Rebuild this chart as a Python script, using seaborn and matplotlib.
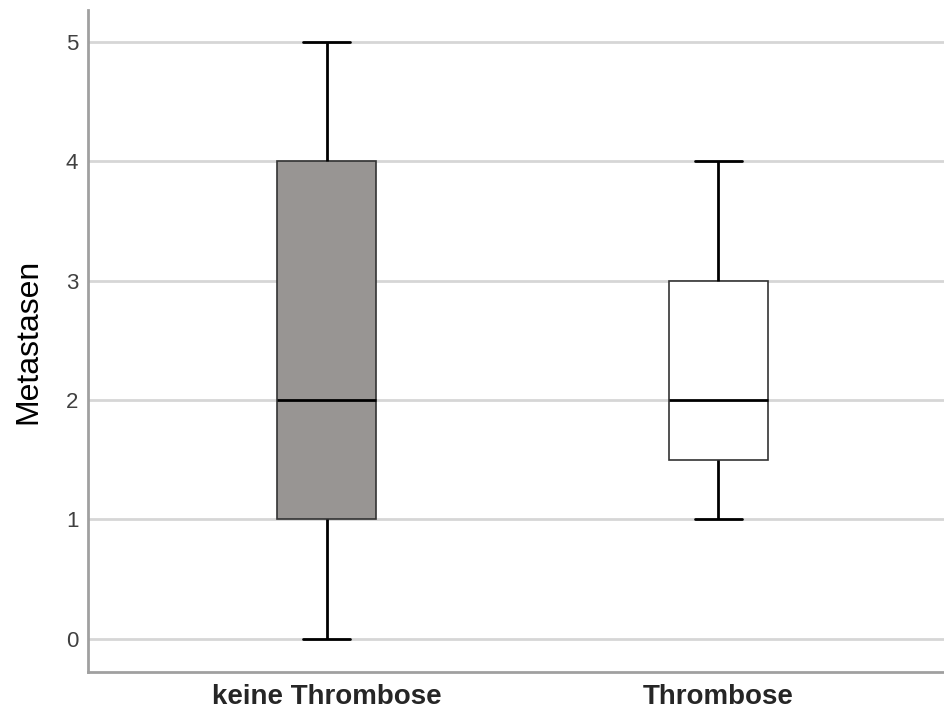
import numpy as np
import pandas as pd
import matplotlib
matplotlib.use("Agg")
import matplotlib.pyplot as plt
import seaborn as sns

# Data: raw counts per group (chosen so quartiles match the reference boxes)
groups = ["keine Thrombose", "Thrombose"]
keine_thrombose = [0, 1, 1, 2, 2, 4, 4, 5]
thrombose = [1, 1, 2, 2, 3, 3, 4]
box_colors = ["#999592", "#ffffff"]

df = pd.DataFrame({
    "Gruppe": [groups[0]] * len(keine_thrombose) + [groups[1]] * len(thrombose),
    "Metastasen": keine_thrombose + thrombose,
})

sns.set_style("white")
plt.rcParams["font.family"] = ["Liberation Sans", "DejaVu Sans"]

fig = plt.figure(figsize=(9.45, 7.13), dpi=100)
ax = fig.add_axes([88 / 945, 41 / 713, 857 / 945, 662 / 713])

sns.boxplot(data=df, x="Gruppe", y="Metastasen", hue="Gruppe", palette=box_colors,
            order=groups, width=0.253, whis=1.5, legend=False, ax=ax,
            boxprops=dict(edgecolor="#333333", linewidth=1.2),
            whiskerprops=dict(color="black", linewidth=2),
            capprops=dict(color="black", linewidth=2),
            medianprops=dict(color="black", linewidth=2),
            capwidths=0.12)

ax.set_ylim(-0.28, 5.27)
ax.set_xlim(-0.61, 1.58)
ax.set_yticks(range(6))
ax.yaxis.grid(True, color="#d6d6d6", linewidth=2)
ax.set_axisbelow(True)
for s in ["top", "right"]:
    ax.spines[s].set_visible(False)
for s in ["left", "bottom"]:
    ax.spines[s].set_color("#a0a0a0")
    ax.spines[s].set_linewidth(2)
ax.tick_params(axis="y", length=0, labelsize=16, labelcolor="#404040", pad=7)
ax.tick_params(axis="x", length=0, labelsize=20, pad=9)
for lbl in ax.get_xticklabels():
    lbl.set_fontweight("bold")
ax.set_xlabel("")
ax.set_ylabel("Metastasen", fontsize=23, labelpad=16, color="black")

fig.savefig("out.png", dpi=100)
